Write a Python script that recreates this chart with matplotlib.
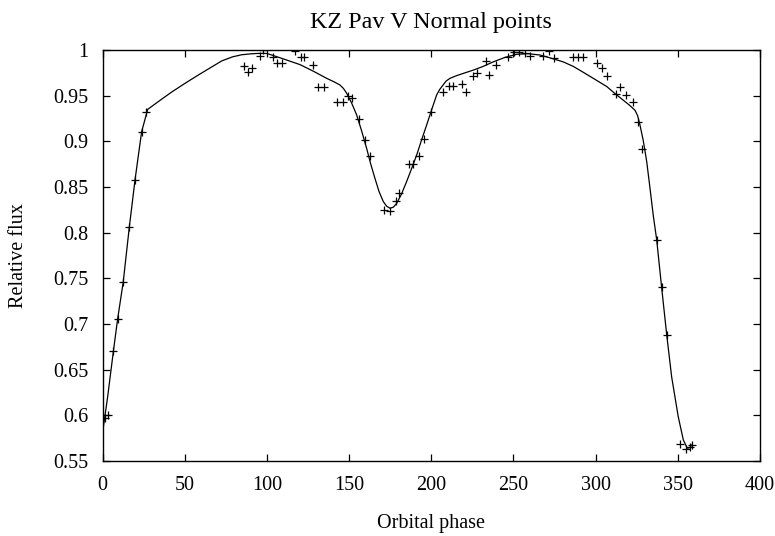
import matplotlib
matplotlib.use("Agg")
import matplotlib.pyplot as plt

# normal points (orbital phase in degrees, relative flux)
phase_pts = [1.5, 3.0, 6.5, 9.1, 12.5, 16.2, 19.7, 23.7, 26.2,
             86.2, 88.6, 91.0, 95.7, 97.4, 103.5, 105.9, 109.3, 117.0, 120.5, 122.5,
             128.2, 131.2, 134.7, 142.8, 146.1, 149.1, 151.9, 156.0, 159.6, 162.7,
             171.4, 174.9, 178.3, 180.3, 186.6, 189.0, 192.5, 195.7, 199.8,
             206.9, 210.8, 213.4, 218.9, 221.1, 225.2, 227.6, 233.1, 235.3, 239.4,
             246.9, 250.3, 253.6, 257.0, 260.1, 268.2, 271.6, 274.9,
             286.4, 289.1, 292.1, 300.7, 304.1, 307.1, 312.4, 314.9, 318.3, 322.6,
             326.0, 328.4, 337.2, 340.2, 343.3, 351.4, 355.0, 357.4, 358.5]
flux_pts = [0.597, 0.600, 0.670, 0.7055, 0.746, 0.806, 0.858, 0.9105, 0.932,
            0.983, 0.976, 0.980, 0.9938, 1.000, 0.9927, 0.986, 0.9854, 0.999, 0.9927, 0.9927,
            0.9836, 0.960, 0.960, 0.9427, 0.9427, 0.950, 0.947, 0.925, 0.902, 0.884,
            0.8248, 0.824, 0.835, 0.8438, 0.875, 0.875, 0.884, 0.9026, 0.9325,
            0.9537, 0.961, 0.961, 0.963, 0.9543, 0.971, 0.9745, 0.9883, 0.9726, 0.9836,
            0.9927, 0.998, 0.998, 0.9964, 0.9938, 0.9938, 0.999, 0.991,
            0.992, 0.992, 0.992, 0.986, 0.980, 0.971, 0.952, 0.960, 0.9507, 0.9434,
            0.9215, 0.8916, 0.792, 0.740, 0.688, 0.5686, 0.5628, 0.5657, 0.567]

# model light curve
phase_fit = [0.0, 3.0, 6.5, 9.1, 12.5, 16.2, 19.7, 23.7, 27.4, 35.0, 42.0, 50.1,
             58.2, 65.0, 72.4, 79.0, 84.6, 90.0, 95.0, 100.0, 105.9, 112.0, 120.1,
             128.0, 136.3, 141.0, 144.4, 146.5, 148.5, 151.5, 154.6, 157.5, 160.7,
             163.0, 165.7, 168.2, 170.8, 172.8, 174.9, 177.0, 178.9, 181.8, 185.0,
             188.0, 191.1, 194.0, 197.2, 200.3, 203.3, 205.2, 206.9, 209.0, 211.4,
             215.5, 220.5, 225.6, 231.5, 237.7, 245.0, 252.0, 259.0, 266.2, 273.0,
             280.3, 286.5, 292.5, 299.5, 306.8, 312.0, 316.9, 321.0, 324.0, 325.6,
             327.0, 329.0, 331.1, 333.1, 335.1, 337.2, 340.2, 343.3, 346.3, 350.3,
             353.4, 355.8, 357.2, 358.5]
flux_fit = [0.582, 0.620, 0.670, 0.7055, 0.746, 0.806, 0.858, 0.9105, 0.935, 0.945,
            0.954, 0.9635, 0.9726, 0.980, 0.988, 0.9925, 0.9948, 0.9958, 0.9963,
            0.9962, 0.9927, 0.989, 0.984, 0.977, 0.969, 0.965, 0.9617, 0.958,
            0.9526, 0.942, 0.9288, 0.912, 0.892, 0.876, 0.8595, 0.845, 0.834,
            0.829, 0.8267, 0.828, 0.832, 0.842, 0.856, 0.870, 0.885, 0.901, 0.918,
            0.935, 0.951, 0.957, 0.961, 0.966, 0.969, 0.972, 0.975, 0.978, 0.982,
            0.987, 0.992, 0.9953, 0.996, 0.9945, 0.991, 0.987, 0.982, 0.9756,
            0.968, 0.960, 0.952, 0.945, 0.939, 0.934, 0.928, 0.918, 0.901, 0.878,
            0.849, 0.819, 0.792, 0.740, 0.688, 0.642, 0.5985, 0.573, 0.564, 0.5645,
            0.5675]

xticks = [0, 50, 100, 150, 200, 250, 300, 350, 400]
yticks = [0.55, 0.6, 0.65, 0.7, 0.75, 0.8, 0.85, 0.9, 0.95, 1.0]
ytick_labels = ["0.55", "0.6", "0.65", "0.7", "0.75", "0.8", "0.85", "0.9", "0.95", "1"]

plt.rcParams["font.family"] = ["Liberation Serif", "DejaVu Serif"]
plt.rcParams["font.size"] = 14.5

fig = plt.figure(figsize=(7.75, 5.36), dpi=100)
ax = fig.add_axes([0.1325, 0.140, 0.848, 0.7667])

ax.plot(phase_fit, flux_fit, color="black", linewidth=0.9)
ax.plot(phase_pts, flux_pts, linestyle="none", marker="+", color="black",
        markersize=6, markeredgewidth=0.9)

ax.set_xlim(0, 400)
ax.set_ylim(0.55, 1.0)
ax.set_xticks(xticks)
ax.set_xticklabels([str(t) for t in xticks])
ax.set_yticks(yticks)
ax.set_yticklabels(ytick_labels)
ax.tick_params(direction="in", length=5, width=0.9, top=True, right=True)
ax.tick_params(axis="y", pad=10)
ax.tick_params(axis="x", pad=11)
for s in ax.spines.values():
    s.set_linewidth(1.0)

ax.set_title("KZ Pav V Normal points", pad=16)
ax.set_xlabel("Orbital phase")
ax.set_ylabel("Relative flux")
ax.xaxis.set_label_coords(0.5, -0.128)
ax.yaxis.set_label_coords(-0.113, 0.5)

fig.savefig("out.png", dpi=100)
